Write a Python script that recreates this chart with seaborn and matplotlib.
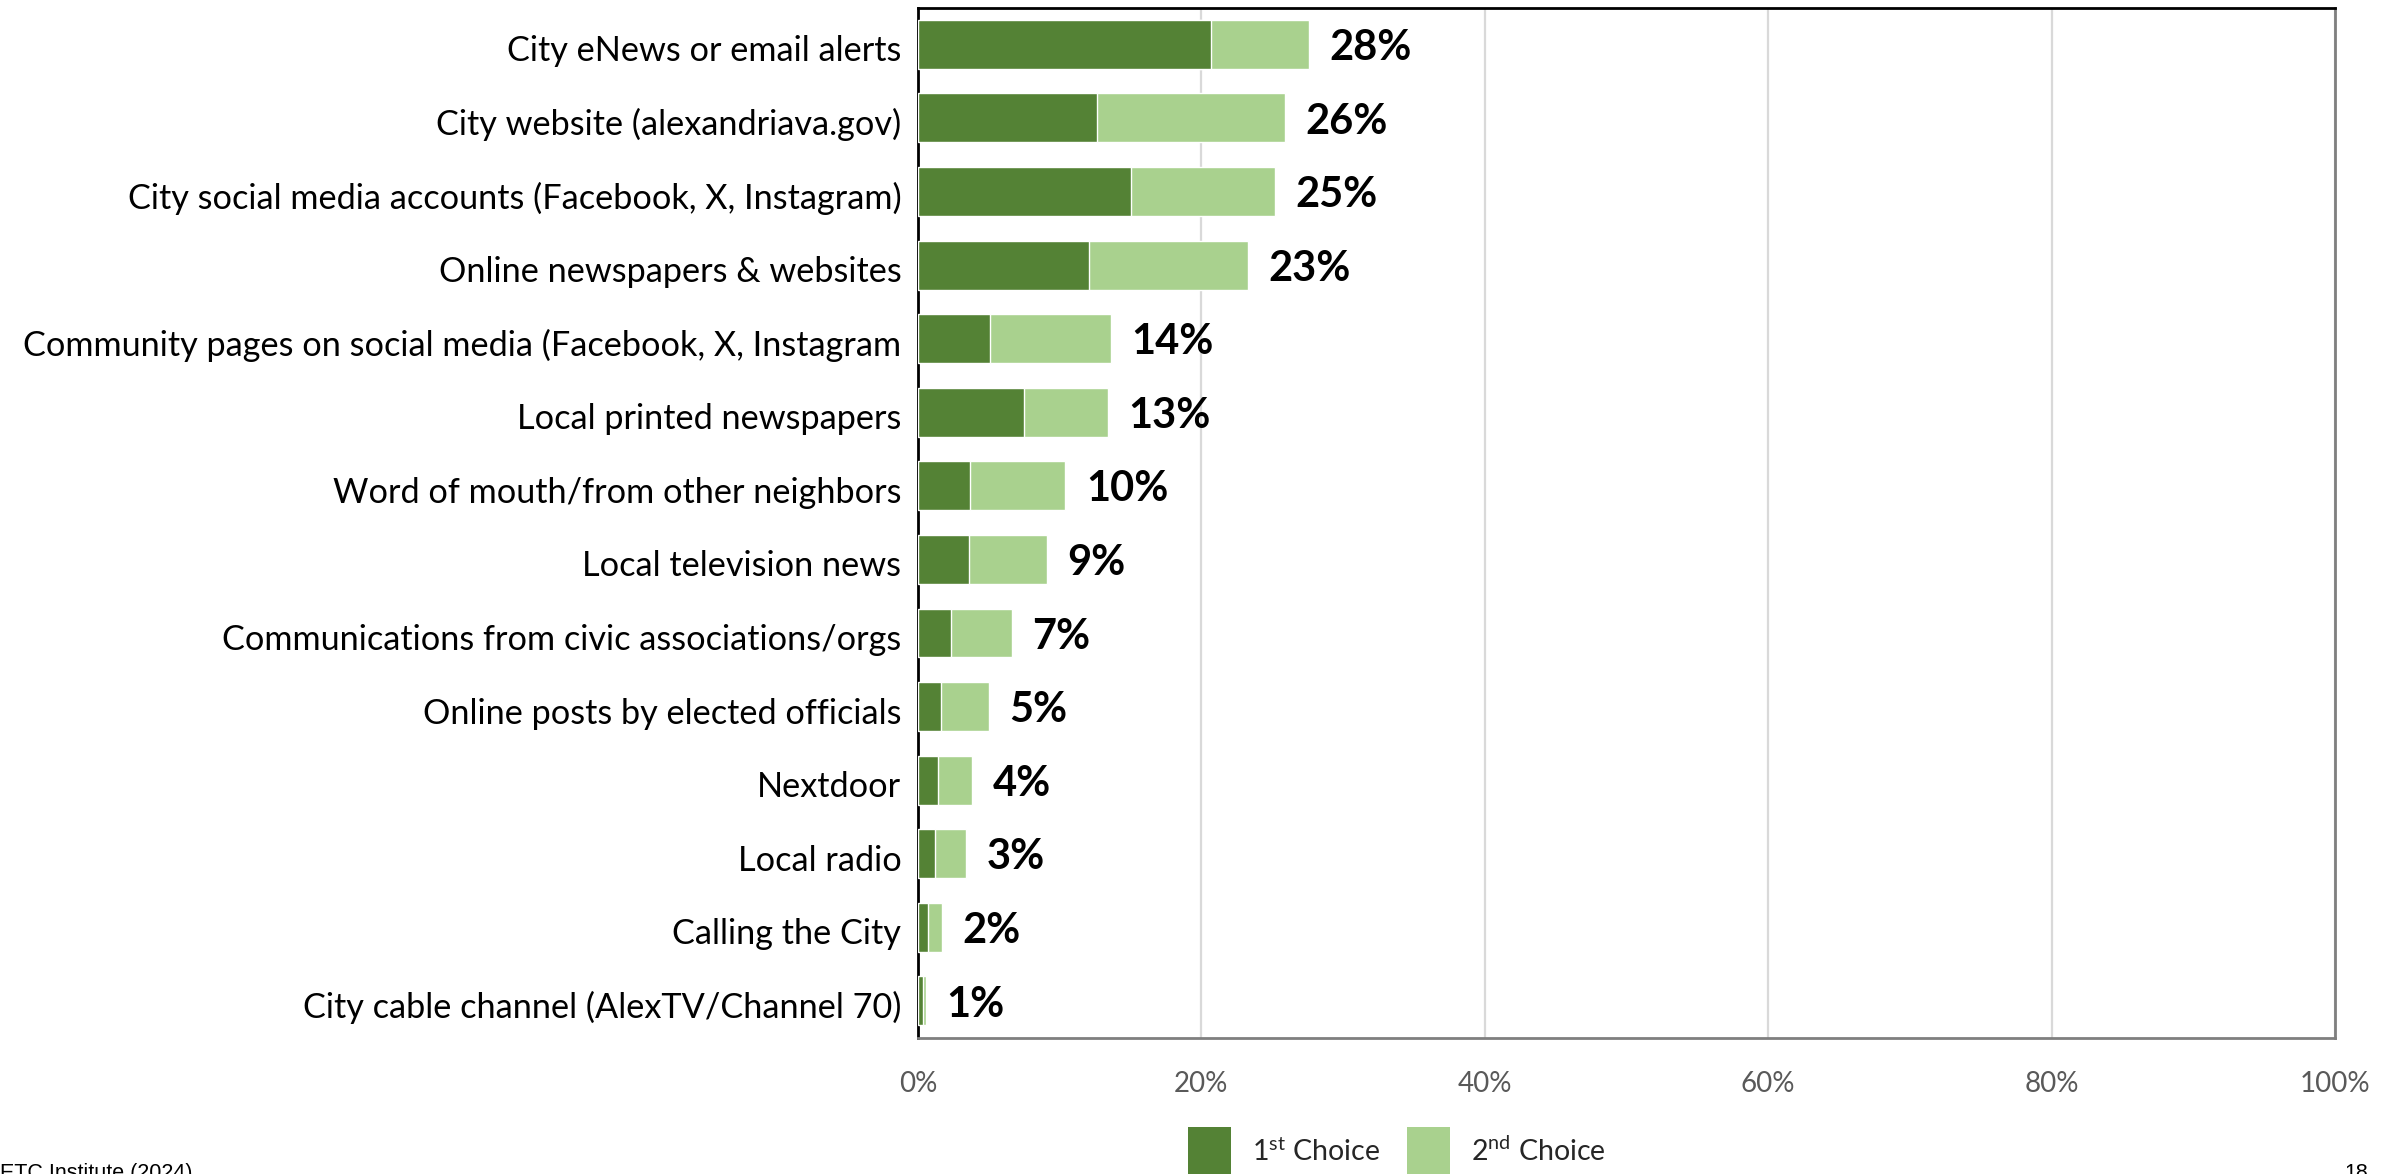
import numpy as np
import pandas as pd
import matplotlib
matplotlib.use("Agg")
import matplotlib.pyplot as plt
import matplotlib.transforms as mtrans
from matplotlib.patches import Patch
import seaborn as sns

# Survey: sources residents use most to get City information (top two choices)
categories = [
    "City eNews or email alerts",
    "City website (alexandriava.gov)",
    "City social media accounts (Facebook, X, Instagram)",
    "Online newspapers & websites",
    "Community pages on social media (Facebook, X, Instagram",
    "Local printed newspapers",
    "Word of mouth/from other neighbors",
    "Local television news",
    "Communications from civic associations/orgs",
    "Online posts by elected officials",
    "Nextdoor",
    "Local radio",
    "Calling the City",
    "City cable channel (AlexTV/Channel 70)",
]
first_choice = [20.7, 12.6, 15.0, 12.1, 5.1, 7.5, 3.7, 3.6, 2.3, 1.6, 1.4, 1.2, 0.7, 0.35]
second_choice = [6.9, 13.3, 10.2, 11.2, 8.5, 5.9, 6.7, 5.5, 4.3, 3.4, 2.4, 2.2, 1.0, 0.2]
x_ticks = [0, 20, 40, 60, 80, 100]
legend_labels = [r"1$^{\mathrm{st}}$ Choice", r"2$^{\mathrm{nd}}$ Choice"]

DARK = "#548235"
LIGHT = "#A9D18E"

sns.set_theme(style="white")
plt.rcParams["font.family"] = ["Lato", "DejaVu Sans"]
plt.rcParams["mathtext.fontset"] = "custom"
plt.rcParams["mathtext.rm"] = "Lato"
plt.rcParams["mathtext.it"] = "Lato:italic"
plt.rcParams["mathtext.bf"] = "Lato:bold"

df = pd.DataFrame({
    "source": categories,
    "first": first_choice,
    "second": second_choice,
})
df["total"] = df["first"] + df["second"]

W, H = 2397, 1174
fig = plt.figure(figsize=(W / 100, H / 100), dpi=100)
ax = fig.add_axes([918 / W, 1 - 1037.7 / H, (2335 - 918) / W, (1037.7 - 7.5) / H])

# stacked bars: full total in light green, first choice drawn on top in dark green
sns.barplot(data=df, x="total", y="source", color=LIGHT, width=0.665,
            saturation=1, orient="h", ax=ax, zorder=2)
sns.barplot(data=df, x="first", y="source", color=DARK, width=0.665,
            saturation=1, orient="h", ax=ax, zorder=3)

ax.set_xlim(0, 100)
ax.set_ylim(len(categories) - 0.5, -0.5)
ax.set_xticks(x_ticks)
ax.set_xticklabels([f"{t}%" for t in x_ticks])
ax.set_xlabel("")
ax.set_ylabel("")

ax.xaxis.grid(True, color="#D9D9D9", linewidth=1.6, zorder=0)
ax.yaxis.grid(False)
ax.set_axisbelow(True)

ax.tick_params(axis="x", length=0, pad=24, labelsize=20, labelcolor="#595959")
ax.tick_params(axis="y", length=0, pad=12, labelsize=24.7, labelcolor="black")

# nudge category labels down a touch so they sit on the bar centres
shift = mtrans.ScaledTranslation(0, -0.04, fig.dpi_scale_trans)
for lbl in ax.get_yticklabels():
    lbl.set_transform(lbl.get_transform() + shift)

for side, col in [("left", "black"), ("top", "black"),
                  ("right", "#7F7F7F"), ("bottom", "#7F7F7F")]:
    ax.spines[side].set_visible(True)
    ax.spines[side].set_color(col)
    ax.spines[side].set_linewidth(2)

# value labels at the end of each stacked bar
for i, tot in enumerate(df["total"]):
    ax.text(tot + 1.45, i + 0.05, f"{int(np.floor(tot + 0.5))}%", va="center", ha="left",
            fontsize=30, fontweight="bold", color="black", zorder=4)

handles = [Patch(facecolor=DARK, edgecolor="none"), Patch(facecolor=LIGHT, edgecolor="none")]
fig.legend(handles, legend_labels, loc="upper left",
           bbox_to_anchor=(1188 / W, 1 - 1127 / H), ncol=2, frameon=False,
           fontsize=20.5, handlelength=1.5, handleheight=2.4, handletextpad=0.75,
           columnspacing=0.95, borderpad=0, borderaxespad=0)

fig.text(0, 1 - 1163 / H, "ETC Institute (2024)", ha="left", va="top",
         fontsize=15.5, family="Liberation Sans", color="black")
fig.text(2368 / W, 1 - 1163 / H, "18", ha="right", va="top",
         fontsize=15.5, family="Liberation Sans", color="black")

fig.savefig("out.png", dpi=100, facecolor="white")
